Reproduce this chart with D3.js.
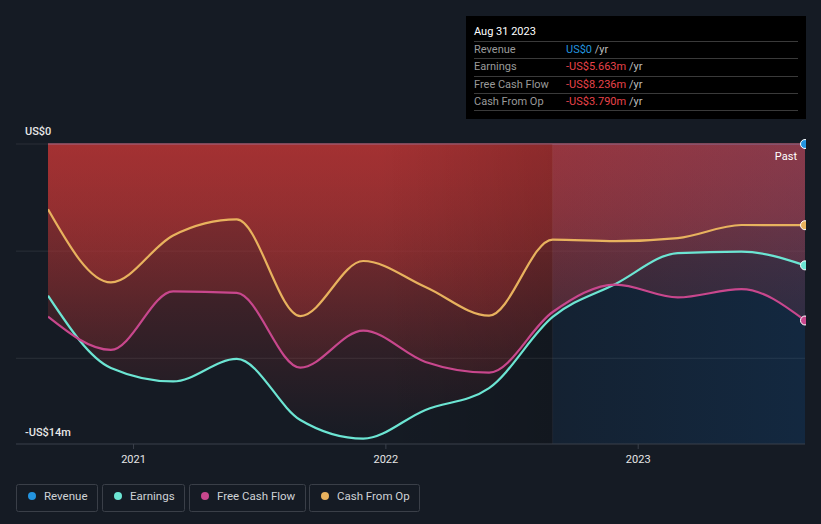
<!DOCTYPE html>
<html>
<head>
<meta charset="utf-8">
<script src="https://cdn.jsdelivr.net/npm/d3@7"></script>
<style>
  html, body { margin: 0; padding: 0; background: #151b24; }
  svg { display: block; font-family: Roboto, "Noto Sans", sans-serif; }
</style>
</head>
<body>
<svg id="chart" width="821" height="524"></svg>
<script>
// ---- data (US$ millions, trailing twelve months) ----
const dates = ["2020-08-31","2020-11-30","2021-02-28","2021-05-31","2021-08-31","2021-11-30",
               "2022-02-28","2022-05-31","2022-08-31","2022-11-30","2023-02-28","2023-05-31","2023-08-31"];
const revenue      = [0,0,0,0,0,0,0,0,0,0,0,0,0];
const earnings     = [-7.08,-10.45,-11.08,-10.03,-12.88,-13.75,-12.41,-11.39,-8.07,-6.53,-5.09,-5.02,-5.663];
const freeCashFlow = [-8.06,-9.61,-6.88,-6.95,-10.44,-8.71,-10.17,-10.67,-7.84,-6.56,-7.16,-6.77,-8.236];
const cashFromOp   = [-3.05,-6.46,-4.27,-3.52,-8.03,-5.46,-6.67,-8.01,-4.46,-4.53,-4.39,-3.78,-3.79];
const yTickValues  = [0, -5, -10, -14];
const yTickLabels  = ["US$0", "-US$14m"];
const xTickYears   = ["2021-01-01","2022-01-01","2023-01-01"];
const pastStart    = "2022-08-31";
const seriesNames  = ["Revenue","Earnings","Free Cash Flow","Cash From Op"];
const seriesColors = ["#2394df","#6ce5d3","#c8478d","#e8b25e"];
const tooltipTitle = "Aug 31 2023";
const tooltipValues = ["US$0","-US$5.663m","-US$8.236m","-US$3.790m"];

(function () {
const parse = d3.timeParse("%Y-%m-%d");
const D = dates.map(parse);

const svg = d3.select("#chart");
const H = 524;
const pL = 48, pR = 805, pT = 144, pB = 444;

const x = d3.scaleTime().domain([D[0], D[D.length-1]]).range([pL, pR]);
const y = d3.scaleLinear().domain([0, -14]).range([pT, pB]);
const xPast = x(parse(pastStart));

const defs = svg.append("defs");
const grad = defs.append("linearGradient").attr("id","redGrad")
  .attr("gradientUnits","userSpaceOnUse").attr("x1",0).attr("x2",0).attr("y1",pT).attr("y2",pB);
grad.append("stop").attr("offset","0%").attr("stop-color","#b53434").attr("stop-opacity",0.52);
grad.append("stop").attr("offset","100%").attr("stop-color","#b53434").attr("stop-opacity",0.0);

const pastGrad = defs.append("linearGradient").attr("id","pastGrad")
  .attr("gradientUnits","userSpaceOnUse").attr("x1",xPast).attr("x2",pR).attr("y1",0).attr("y2",0);
pastGrad.append("stop").attr("offset","0%").attr("stop-color","rgb(10,100,190)").attr("stop-opacity",0.09);
pastGrad.append("stop").attr("offset","100%").attr("stop-color","rgb(10,100,190)").attr("stop-opacity",0.18);

const darkGrad = defs.append("linearGradient").attr("id","darkGrad")
  .attr("gradientUnits","userSpaceOnUse").attr("x1",380).attr("x2",xPast).attr("y1",0).attr("y2",0);
darkGrad.append("stop").attr("offset","0%").attr("stop-color","#000").attr("stop-opacity",0);
darkGrad.append("stop").attr("offset","100%").attr("stop-color","#000").attr("stop-opacity",0.14);

defs.append("clipPath").attr("id","plotClip").append("rect")
  .attr("x", pL).attr("y", pT - 10).attr("width", pR - pL + 1).attr("height", pB - pT + 20);

// gridlines
svg.append("g").selectAll("line").data(yTickValues.slice(0,3)).join("line")
  .attr("x1", 16).attr("x2", pR).attr("y1", d => y(d)).attr("y2", d => y(d))
  .attr("stroke", "rgba(255,255,255,0.09)").attr("stroke-width", 1);

// area fills (layered)
const area = vals => d3.area().curve(d3.curveMonotoneX)
  .x((d,i) => x(D[i])).y0(y(0)).y1(d => y(d))(vals);
const plot = svg.append("g").attr("clip-path","url(#plotClip)");
[earnings, freeCashFlow, cashFromOp].forEach(v => {
  plot.append("path").attr("d", area(v)).attr("fill","url(#redGrad)");
});

// revenue line along zero
const line = d3.line().curve(d3.curveMonotoneX).x((d,i) => x(D[i])).y(d => y(d));
plot.append("path").attr("d", line(revenue)).attr("fill","none")
  .attr("stroke","#a0566a").attr("stroke-width",1.5);

// darkening before past & past overlay
plot.append("rect").attr("x", 380).attr("y", pT).attr("width", xPast - 380)
  .attr("height", pB - pT).attr("fill","url(#darkGrad)");
plot.append("rect").attr("x", xPast).attr("y", pT)
  .attr("width", pR - xPast).attr("height", pB - pT).attr("fill","url(#pastGrad)");
plot.append("line").attr("x1", xPast).attr("x2", xPast)
  .attr("y1", pT).attr("y2", pB).attr("stroke","rgba(255,255,255,0.05)");

// series lines
[[earnings,1],[freeCashFlow,2],[cashFromOp,3]].forEach(([v,ci]) => {
  plot.append("path").attr("d", line(v)).attr("fill","none")
    .attr("stroke", seriesColors[ci]).attr("stroke-width", 2.2);
});

// end dots (clipped)
defs.append("clipPath").attr("id","dotClip").append("rect")
  .attr("x", 0).attr("y", 0).attr("width", pR + 1).attr("height", H);
const lastVals = [revenue, earnings, freeCashFlow, cashFromOp].map(v => v[v.length-1]);
svg.append("g").attr("clip-path","url(#dotClip)").selectAll("circle").data(lastVals).join("circle")
  .attr("cx", x(D[D.length-1])).attr("cy", d => y(d)).attr("r", 4.5)
  .attr("fill", (d,i) => seriesColors[i]).attr("stroke","#ffffff").attr("stroke-width",1);

// x axis
svg.append("line").attr("x1",16).attr("x2",pR).attr("y1",pB).attr("y2",pB)
  .attr("stroke","#3b414b").attr("stroke-width",1);
const xAxis = d3.axisBottom(x).tickValues(xTickYears.map(parse)).tickFormat(d3.timeFormat("%Y"))
  .tickSize(5).tickPadding(6);
const xg = svg.append("g").attr("transform",`translate(0,${pB})`).call(xAxis);
xg.select(".domain").remove();
xg.selectAll(".tick line").attr("stroke","#3b414b");
xg.selectAll(".tick text").attr("fill","#e6e6e6").attr("font-size",11)
  .attr("font-family","Roboto, sans-serif");

// y labels
svg.append("text").attr("x",25).attr("y", y(yTickValues[0]) - 9).text(yTickLabels[0])
  .attr("fill","#e8e8e8").attr("font-size",11).attr("font-weight",500);
svg.append("text").attr("x",25).attr("y", y(yTickValues[3]) - 8).text(yTickLabels[1])
  .attr("fill","#e8e8e8").attr("font-size",11).attr("font-weight",500);

// Past label
svg.append("text").attr("x",797).attr("y",160).attr("text-anchor","end").text("Past")
  .attr("fill","#ffffff").attr("font-size",11);

// tooltip
const tt = svg.append("g");
tt.append("rect").attr("x",466).attr("y",16).attr("width",340).attr("height",103).attr("fill","#000000");
tt.append("text").attr("x",474).attr("y",35).text(tooltipTitle).attr("fill","#ffffff").attr("font-size",11);
const sepY = [41, 58, 76, 93, 110];
tt.selectAll("line.sep").data(sepY).join("line").attr("class","sep")
  .attr("x1",474).attr("x2",798).attr("y1",d=>d+0.5).attr("y2",d=>d+0.5).attr("stroke","#3a3a3a");
const rowY = [53, 70, 88, 105];
seriesNames.forEach((n,i) => {
  tt.append("text").attr("x",474).attr("y",rowY[i]).text(n).attr("fill","#9a9a9a").attr("font-size",11);
  const t = tt.append("text").attr("x",566).attr("y",rowY[i]).attr("font-size",11);
  t.append("tspan").text(tooltipValues[i]).attr("fill", i === 0 ? "#2394df" : "#e8434a");
  t.append("tspan").text(" /yr").attr("fill","#bdbdbd");
});

// legend
const boxes = [[16,97],[102,184],[189,305],[309,419]];
const lg = svg.append("g");
seriesNames.forEach((n,i) => {
  const [x0,x1] = boxes[i];
  lg.append("rect").attr("x",x0+0.5).attr("y",484.5).attr("width",x1-x0).attr("height",27)
    .attr("rx",2).attr("fill","none").attr("stroke","#3a3f48");
  lg.append("circle").attr("cx",x0+16).attr("cy",496).attr("r",4).attr("fill",seriesColors[i]);
  lg.append("text").attr("x",x0+28).attr("y",500).text(n).attr("fill","#cfd2d6").attr("font-size",11.5);
});
})();
</script>
</body>
</html>
